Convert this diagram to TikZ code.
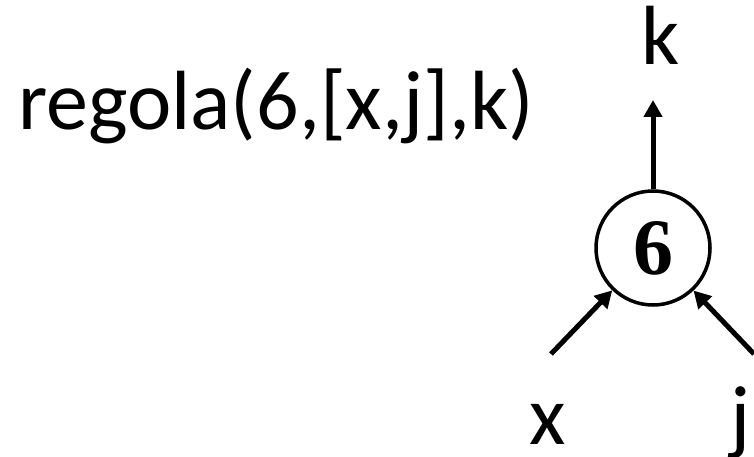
\documentclass[tikz,border=0pt]{standalone}
\usepackage{fontspec}
\setmainfont{Carlito}
\newfontfamily\serifbold{Liberation Serif}
\usetikzlibrary{arrows.meta}
\tikzset{
  lbl/.style={font=\fontsize{84}{90}\selectfont, inner sep=0pt, anchor=base},
  conn/.style={line width=5pt, -{Triangle[length=17pt,width=18pt]}},
  opnode/.style={circle, draw, line width=3.5pt, minimum size=114pt, inner sep=0pt,
    font=\serifbold\bfseries\fontsize{80}{86}\selectfont}
}
\begin{document}
\begin{tikzpicture}[x=1pt,y=-1pt]
\useasboundingbox (0,0) rectangle (754,457);
\node[lbl, anchor=base west] (title) at (18,130) {regola(6,[x,j],k)};
\node[opnode] (c) at (653,248) {\raisebox{-4pt}{6}};
\node[lbl] (k) at (661,65) {k};
\node[lbl, text depth=0pt] (x) at (548,444) {x};
\node[lbl, text depth=10pt] (j) at (741,444) {j};
\coordinate (kk) at (653,100);
\coordinate (xs) at (551,354);
\coordinate (js) at (754,354);
\draw[conn] (c.north) -- (kk);
\draw[conn] (xs) -- (c);
\draw[conn] (js) -- (c);
\end{tikzpicture}
\end{document}
